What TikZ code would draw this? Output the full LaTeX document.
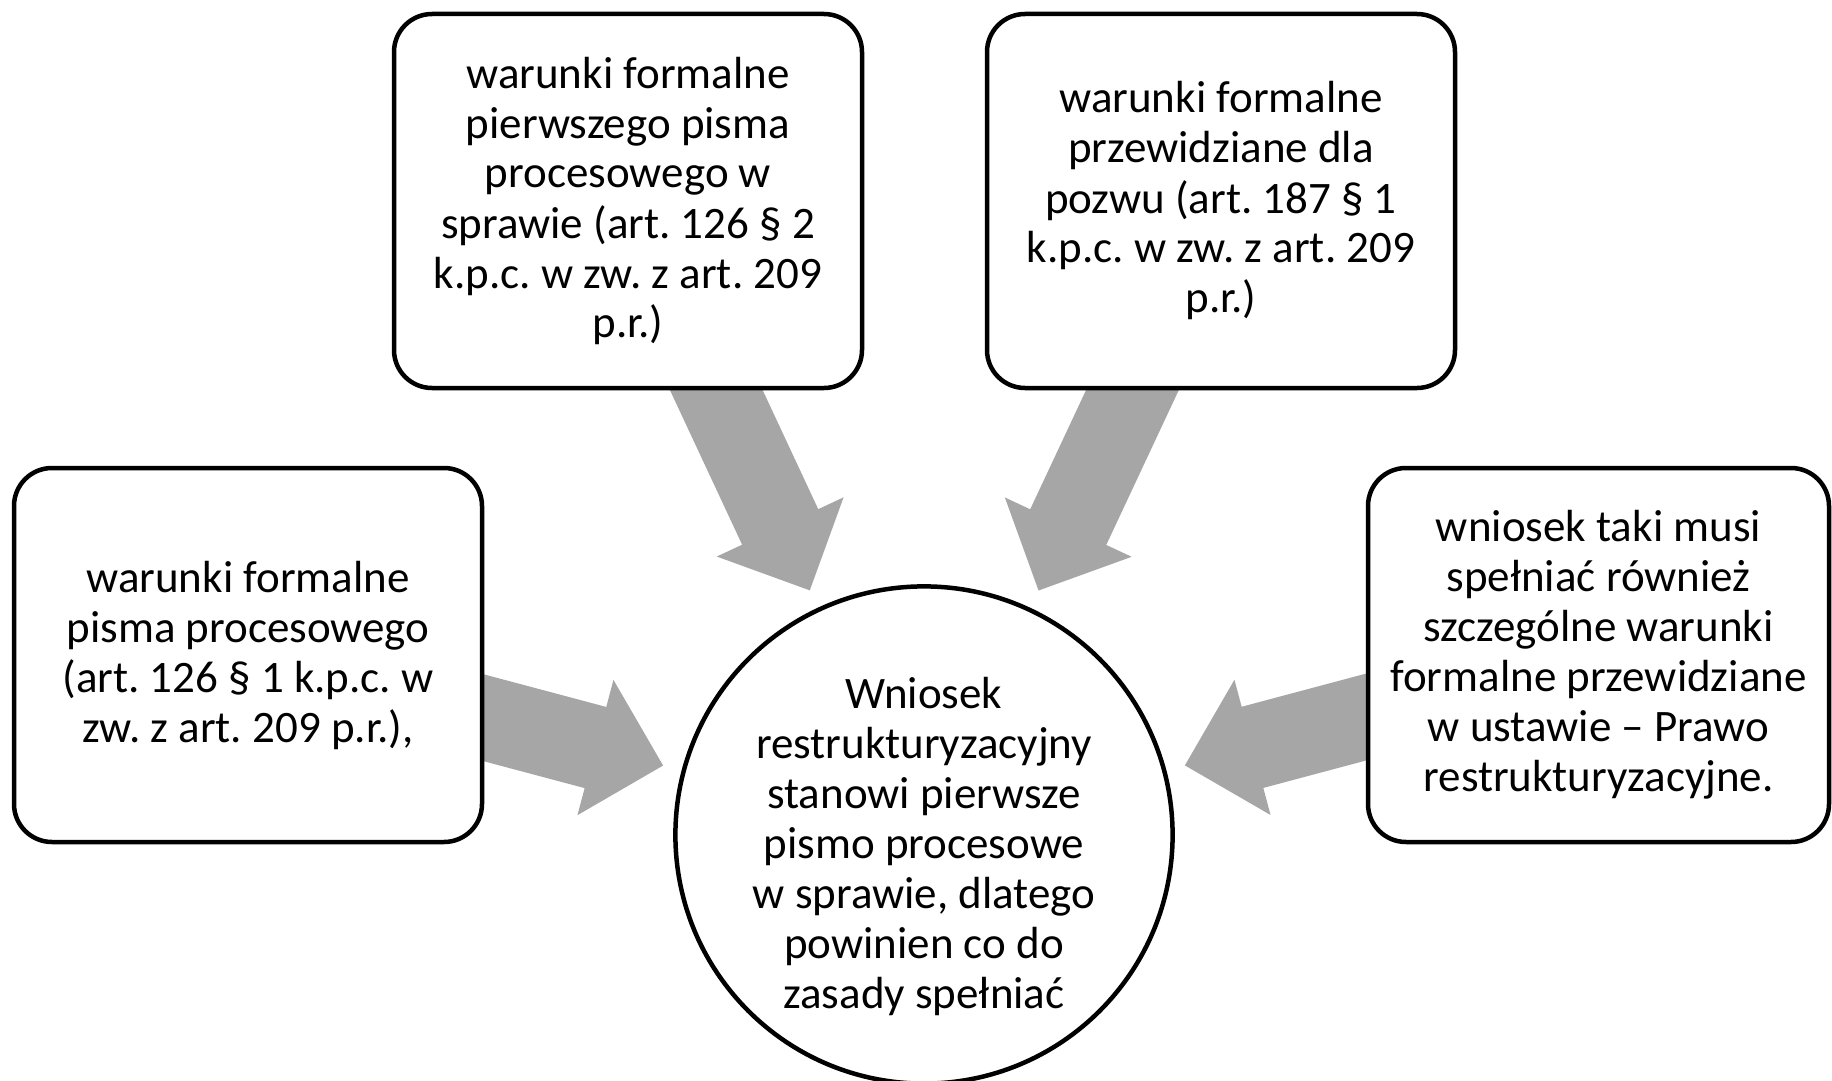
\documentclass[tikz,border=0pt]{standalone}
\usepackage{fontspec}
\setmainfont{Carlito}
\frenchspacing
\usetikzlibrary{calc,backgrounds}
\definecolor{arrowgray}{RGB}{166,166,166}
\tikzset{
  textfont/.style={font=\fontsize{45}{50}\selectfont},
  box/.style={draw, line width=4.5pt, fill=white, rounded corners=38pt,
    minimum width=468pt, minimum height=374pt, align=center, inner sep=0pt, textfont},
  hub/.style={draw, circle, line width=4.5pt, fill=white, minimum size=490pt,
    align=center, inner sep=0pt, textfont},
  blockarrow/.style={fill=arrowgray}
}
% broad arrow on the axis from the centre of #1 towards the centre of #2,
% its tip stopping short of the hub
\newcommand\flowarrow[2]{%
  \coordinate (#1-head) at ($(#2.center)!340pt!(#1.center)$);
  \coordinate (#1-tip)  at ($(#2.center)!270pt!(#1.center)$);
  \fill[blockarrow]
    ($(#1.center)!42pt!90:(#2.center)$) --
    ($(#1-head)!42pt!90:(#2.center)$) --
    ($(#1-head)!70pt!90:(#2.center)$) --
    (#1-tip) --
    ($(#1-head)!70pt!-90:(#2.center)$) --
    ($(#1-head)!42pt!-90:(#2.center)$) --
    ($(#1.center)!42pt!-90:(#2.center)$) -- cycle;
}
\begin{document}
\begin{tikzpicture}[x=1pt,y=-1pt]
\useasboundingbox (0,0) rectangle (1832,1081);

% the strut on the first line lowers the block a little inside the circle
\node[hub] (hub) at (924,835) {\rule{0pt}{54pt}Wniosek\\restrukturyzacyjny\\stanowi pierwsze\\pismo procesowe\\w sprawie, dlatego\\powinien co do\\zasady spełniać};

\node[box] (first) at (628,201) {warunki formalne\\pierwszego pisma\\procesowego w\\sprawie (art. 126 § 2\\k.p.c. w zw. z art. 209\\p.r.)};

\node[box] (suit) at (1221,201) {warunki formalne\\przewidziane dla\\pozwu (art. 187 § 1\\k.p.c. w zw. z art. 209\\p.r.)};

\node[box] (general) at (248,655) {warunki formalne\\pisma procesowego\\(art. 126 § 1 k.p.c. w\\zw. z art. 209 p.r.),};

\node[box, minimum width=461pt] (special) at (1598.5,655) {wniosek taki musi\\spełniać również\\szczególne warunki\\formalne przewidziane\\w ustawie – Prawo\\restrukturyzacyjne.};

\begin{pgfonlayer}{background}
  \flowarrow{first}{hub}
  \flowarrow{suit}{hub}
  \flowarrow{general}{hub}
  \flowarrow{special}{hub}
\end{pgfonlayer}
\end{tikzpicture}
\end{document}
